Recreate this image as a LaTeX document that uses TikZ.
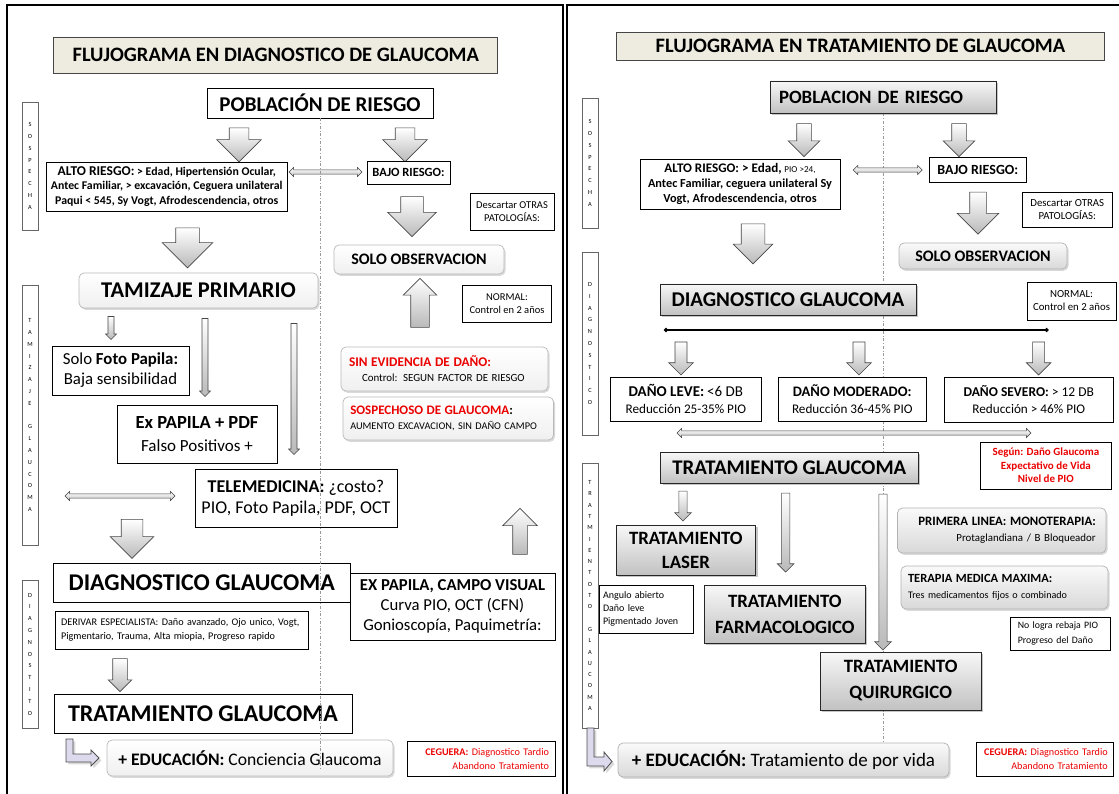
\documentclass[tikz,border=0pt]{standalone}
\usepackage{fontspec}
\setmainfont{Carlito}
\usetikzlibrary{shapes.arrows,shadows,arrows.meta,backgrounds}
\definecolor{titlefill}{RGB}{238,236,224}
\definecolor{redtxt}{RGB}{235,0,0}
\definecolor{lila}{RGB}{222,218,238}
\newcommand{\fz}[2]{\fontsize{#1}{#2}\selectfont}

\begin{document}
\begin{tikzpicture}[x=1pt,y=1pt]
\tikzset{
  plainbox/.style={draw=black, line width=0.7pt, fill=white, align=center, inner sep=0pt},
  shadebox/.style={plainbox, draw=black!85, top color=gray!6, bottom color=gray!48, drop shadow={opacity=0.45, shadow xshift=1.8pt, shadow yshift=-1.8pt}},
  softbox/.style={plainbox, draw=gray!55, rounded corners=5pt, top color=white, bottom color=gray!12, drop shadow={opacity=0.3, shadow xshift=1.5pt, shadow yshift=-1.8pt}},
  softgray/.style={softbox, draw=gray!60, top color=gray!4, bottom color=gray!30},
  titlebox/.style={draw=gray!55!black, line width=0.7pt, fill=titlefill, inner sep=0pt},
  sidebox/.style={draw=black!60, line width=0.4pt, fill=white, minimum width=16, inner sep=0pt, align=center, font={\fz{6.3}{11.8}}},
  redbox/.style={plainbox, text=redtxt},
  blkbase/.style={single arrow, draw=gray!55!black, line width=0.6pt, top color=white, bottom color=gray!55, single arrow head indent=0pt, minimum width=0pt},
  blkdn/.style 2 args={blkbase, shape border rotate=270, inner sep=#1, single arrow head extend=#2},
  blkup/.style 2 args={blkbase, shape border rotate=90, inner sep=#1, single arrow head extend=#2},
  dblarr/.style={double arrow, draw=gray!50!black, line width=0.5pt, top color=white, bottom color=gray!45, inner sep=1.8pt, double arrow head extend=2.5pt, minimum width=0pt},
  larrow/.style={draw=black!70, line width=0.8pt, fill=lila, drop shadow={opacity=0.3}},
  midline/.style={gray!80, line width=0.5pt, dash dot},
  panelline/.style={line width=1.6pt, black}
}
\useasboundingbox (0,0) rectangle (1119,-794);
\draw[panelline] (7,-794) -- (7,-5) -- (563,-5) -- (563,-794);
\draw[panelline] (567,-794) -- (567,-5) -- (1119,-5);

\node[titlebox, minimum width=444, minimum height=36] (tit1) at (275.8,-55) {\fz{20.5}{22}\bfseries FLUJOGRAMA EN DIAGNOSTICO DE GLAUCOMA};
\node[plainbox, minimum width=226, minimum height=30, font={\fz{21}{23}\bfseries}] (pob1) at (320,-103) {POBLACIÓN DE RIESGO};
\node[sidebox, minimum height=128] (sos1) at (30,-166) {S\\O\\S\\P\\E\\C\\H\\A};
\node[blkdn={9.5pt}{12.5pt}, minimum height=34] (ar1) at (239,-140) {};
\node[blkdn={9.5pt}{12.5pt}, minimum height=34] (ar2) at (405,-140) {};
\node[plainbox, minimum width=241.5, minimum height=49, font={\fz{11.8}{14.5}\bfseries}] (alto1) at (166.75,-186.5) {{\fz{13.5}{14.5}ALTO RIESGO:} > Edad, Hipertensión Ocular,\\Antec Familiar, > excavación, Ceguera unilateral\\Paqui < 545, Sy Vogt, Afrodescendencia, otros};
\node[dblarr, minimum height=73] (lr1) at (325.5,-172) {};
\node[plainbox, minimum width=83, minimum height=23, font={\fz{12.5}{14}\bfseries}] (bajo1) at (408.5,-172.5) {BAJO RIESGO:};
\node[plainbox, minimum width=84, minimum height=37, font={\fz{10.5}{13}}] (desc1) at (512,-211.5) {Descartar OTRAS\\PATOLOGÍAS:};
\node[blkdn={11pt}{13pt}, minimum height=40] (ar3) at (412,-211) {};
\node[blkdn={11.5pt}{13.5pt}, minimum height=40] (ar4) at (187.5,-242) {};
\node[softbox, minimum width=170, minimum height=29, font={\fz{16}{18}\bfseries}] (solo1) at (419,-259.5) {SOLO OBSERVACION};
\node[blkup={9pt}{7.5pt}, minimum height=49] (ar5) at (420,-307.5) {};
\node[plainbox, minimum width=89.5, minimum height=37, font={\fz{10.5}{13}}] (norm1) at (507,-303.5) {NORMAL:\\Control en 2 años};
\node[sidebox, minimum height=260] (tam0) at (30,-415) {T\\A\\M\\I\\Z\\A\\J\\E\\[11.8pt]G\\L\\A\\U\\C\\O\\M\\A};
\node[softbox, minimum width=239, minimum height=35, font={\fz{22.5}{24}\bfseries}] (tam1) at (198.5,-290.5) {TAMIZAJE PRIMARIO};
\node[blkdn={2.7pt}{2.5pt}, minimum height=23] (ar6) at (111,-326.5) {};
\node[blkdn={2.7pt}{2.5pt}, minimum height=78] (ar7) at (205,-356) {};
\node[blkdn={2.7pt}{2.5pt}, minimum height=131] (ar8) at (294,-387.5) {};
\node[plainbox, minimum width=137, minimum height=49, font={\fz{16.8}{20}}] (foto1) at (120.5,-370.5) {Solo \textbf{Foto Papila:}\\Baja sensibilidad};
\node[plainbox, minimum width=160, minimum height=58, font={\fz{17}{23}}] (pap1) at (197,-434) {{\fz{18.5}{23}\bfseries Ex PAPILA + PDF}\\Falso Positivos +};
\node[plainbox, minimum width=202, minimum height=58, font={\fz{18}{21}}] (tele1) at (296,-498) {\textbf{TELEMEDICINA:} ¿costo?\\PIO, Foto Papila,  PDF, OCT};
\node[dblarr, minimum height=110] (lr2) at (120,-496) {};
\node[blkdn={10.5pt}{11pt}, minimum height=39] (ar9) at (132,-533.5) {};
\node[blkup={7pt}{10pt}, minimum height=46] (ar10) at (520,-535) {};
\node[softbox, minimum width=207, minimum height=44, align=left, text width=191, font={\fz{10.9}{15}}] (sin1) at (444.5,-369) {{\fz{13.3}{15}\bfseries\color{redtxt}SIN EVIDENCIA DE DAÑO:}\\\hspace*{13pt}Control:  SEGUN FACTOR DE RIESGO};
\node[softbox, minimum width=210.5, minimum height=43, align=left, text width=196, font={\fz{10.3}{15}}] (sos2) at (448.25,-418.5) {{\fz{13}{15}\bfseries\textcolor{redtxt}{SOSPECHOSO DE GLAUCOMA}:}\\AUMENTO  EXCAVACION,  SIN DAÑO CAMPO};
\node[plainbox, minimum width=296.4, minimum height=39, font={\fz{24}{26}\bfseries}] (diag1) at (201.8,-582.5) {DIAGNOSTICO GLAUCOMA};
\node[plainbox, minimum width=205, minimum height=67, font={\fz{16.7}{20}}] (exp2) at (452.5,-606.5) {\textbf{EX PAPILA,  CAMPO VISUAL}\\Curva PIO, OCT (CFN)\\Gonioscopía, Paquimetría:};
\node[plainbox, minimum width=253, minimum height=38, align=left, text width=241, font={\fz{10.2}{14}}] (der1) at (181.5,-630) {DERIVAR ESPECIALISTA: Daño avanzado, Ojo unico, Vogt,\\Pigmentario, Trauma, Alta miopia, Progreso rapido};
\node[sidebox, minimum height=148] (dia0) at (30,-654) {D\\I\\A\\G\\N\\O\\S\\T\\I\\T\\O};
\node[blkdn={7pt}{4.5pt}, minimum height=33] (ar11) at (120,-671.5) {};
\node[plainbox, minimum width=298, minimum height=39, font={\fz{24}{26}\bfseries}] (trat1) at (203,-713.5) {TRATAMIENTO GLAUCOMA};
\draw[larrow] (66,-739) -- (73,-739) -- (73,-754) -- (91,-754) -- (91,-750) -- (99,-758) -- (91,-766) -- (91,-762) -- (66,-762) -- cycle;
\node[softbox, minimum width=286, minimum height=36, font={\fz{17.6}{19}}] (edu1) at (250,-758) {\textbf{+ EDUCACIÓN:} Conciencia  Glaucoma};
\node[redbox, minimum width=148, minimum height=35, align=right, text width=136, font={\fz{10.2}{14}}] (ceg1) at (481,-758.5) {\textbf{CEGUERA:} Diagnostico Tardio\\Abandono Tratamiento};
\coordinate (m1) at (320,-770);
\draw[midline] (pob1.south) -- (m1);

\node[titlebox, minimum width=488, minimum height=28] (tit2) at (860.5,-46) {\fz{20.5}{22}\bfseries FLUJOGRAMA EN TRATAMIENTO DE GLAUCOMA};
\node[shadebox, minimum width=226, minimum height=32, align=left, text width=208, font={\fz{18.8}{21}\bfseries}] (pob2) at (883,-97) {POBLACION DE RIESGO};
\node[sidebox, minimum height=130] (sos3) at (590,-163) {S\\O\\S\\P\\E\\C\\H\\A};
\node[blkdn={7pt}{8.5pt}, minimum height=33] (br1) at (804,-136.5) {};
\node[blkdn={7pt}{8.5pt}, minimum height=33] (br2) at (959,-136.5) {};
\node[plainbox, minimum width=200, minimum height=50, font={\fz{12.3}{15}\bfseries}] (alto2) at (740,-184) {{\fz{13.1}{15}ALTO RIESGO: > Edad,} {\fz{9.1}{15}\mdseries PIO >24,}\\Antec Familiar, ceguera unilateral Sy\\Vogt,  Afrodescendencia, otros};
\node[dblarr, minimum height=69] (rr1) at (887.7,-170) {};
\node[plainbox, minimum width=96.4, minimum height=25, font={\fz{14}{16}\bfseries}] (bajo2) at (977.8,-169.5) {BAJO RIESGO:};
\node[plainbox, minimum width=89.5, minimum height=35, font={\fz{10.8}{13}}] (desc2) at (1067.25,-209.5) {Descartar OTRAS\\PATOLOGÍAS:};
\node[blkdn={8pt}{12.5pt}, minimum height=42] (br3) at (978,-209) {};
\node[blkdn={11.5pt}{8pt}, minimum height=40] (br4) at (753,-238) {};
\node[softgray, minimum width=168, minimum height=26, font={\fz{16}{18}\bfseries}] (solo2) at (983,-256) {SOLO OBSERVACION};
\node[sidebox, minimum height=183] (dia2) at (590,-343.5) {D\\I\\A\\G\\N\\O\\S\\T\\I\\C\\O};
\node[shadebox, minimum width=256, minimum height=31, font={\fz{21}{23}\bfseries}] (diag2) at (788,-299.5) {DIAGNOSTICO GLAUCOMA};
\node[plainbox, minimum width=89, minimum height=38, font={\fz{10.8}{13}}] (norm2) at (1071.5,-301) {NORMAL:\\Control en 2 años};
\coordinate (hl1) at (664,-330);
\coordinate (hl2) at (1048.6,-330);
\draw[line width=1.4pt, {Circle[length=4pt]}-{Circle[length=4pt]}] (hl1) -- (hl2);
\node[blkdn={5.7pt}{6.3pt}, minimum height=33] (br5) at (681,-355.5) {};
\node[blkdn={5.7pt}{6.3pt}, minimum height=33] (br6) at (859,-355.5) {};
\node[blkdn={5.7pt}{6.3pt}, minimum height=33] (br7) at (1038.6,-355.5) {};
\node[plainbox, minimum width=150.3, minimum height=44, font={\fz{13.2}{17}}] (leve) at (685.85,-399) {{\fz{15}{17}\bfseries DAÑO LEVE:} {\fz{15}{17}<6 DB}\\Reducción 25-35\% PIO};
\node[plainbox, minimum width=147.4, minimum height=44, font={\fz{13.2}{17}}] (mode) at (852.3,-399) {{\fz{14.5}{17}\bfseries DAÑO MODERADO:}\\Reducción 36-45\% PIO};
\node[plainbox, minimum width=169.6, minimum height=45, font={\fz{13.2}{17}}] (seve) at (1028.8,-399.5) {{\fz{13.5}{17}\bfseries DAÑO SEVERO:} {\fz{13.5}{17}> 12 DB}\\Reducción > 46\% PIO};
\node[dblarr, minimum height=354] (rr2) at (854,-433) {};
\node[redbox, minimum width=131.8, minimum height=47, font={\fz{11}{13.5}\bfseries}] (segun) at (1045.9,-465.5) {Según: Daño Glaucoma\\Expectativo de Vida\\Nivel de PIO};
\node[shadebox, minimum width=257.3, minimum height=31, font={\fz{20.8}{23}\bfseries}] (trat2) at (789.35,-467.5) {TRATAMIENTO GLAUCOMA};
\node[sidebox, minimum height=265, font={\fz{6.3}{11.3}}] (tra0) at (590,-595.5) {T\\R\\A\\T\\M\\I\\E\\N\\T\\O\\T\\O\\[11.3pt]G\\L\\A\\U\\C\\O\\M\\A};
\node[blkdn={3.8pt}{4.2pt}, minimum height=30] (tr1) at (683,-504) {};
\node[blkdn={3.8pt}{4.2pt}, minimum height=79] (tr2) at (785.7,-530.5) {};
\node[blkdn={3.8pt}{4.2pt}, minimum height=156] (tr3) at (883,-570) {};
\node[shadebox, minimum width=139.7, minimum height=50, font={\fz{18.8}{24}\bfseries}] (laser) at (685.85,-550) {TRATAMIENTO\\LASER};
\node[softgray, minimum width=208.5, minimum height=45, align=right, text width=188, font={\fz{10.9}{16}}] (prim) at (1001.75,-530.5) {{\fz{12.8}{16}\bfseries PRIMERA LINEA: MONOTERAPIA:}\\Protaglandiana  / B Bloqueador};
\node[softgray, minimum width=207, minimum height=43, align=left, text width=193, font={\fz{10.1}{16}}] (terap) at (1004.5,-587.5) {{\fz{12.5}{16}\bfseries TERAPIA MEDICA MAXIMA:}\\Tres medicamentos  fijos  o combinado};
\node[plainbox, minimum width=94, minimum height=48, align=left, text width=86, font={\fz{10}{13}}] (ang) at (646,-609) {Angulo abierto\\Daño leve\\Pigmentado Joven};
\node[shadebox, minimum width=160.4, minimum height=58, font={\fz{18.8}{26}\bfseries}] (farm) at (784.8,-614) {TRATAMIENTO\\FARMACOLOGICO};
\node[plainbox, minimum width=99.3, minimum height=33, align=left, text width=85, font={\fz{9.8}{14.5}}] (nolog) at (1060.35,-633.5) {No logra rebaja PIO\\Progreso del Daño};
\node[shadebox, minimum width=161.4, minimum height=58, font={\fz{18.8}{26}\bfseries}] (quir) at (900.7,-681) {TRATAMIENTO\\QUIRURGICO};
\draw[larrow] (587,-728) -- (594,-728) -- (594,-757) -- (604,-757) -- (604,-752) -- (612,-761.5) -- (604,-771) -- (604,-766) -- (587,-766) -- cycle;
\node[softgray, minimum width=331, minimum height=34, font={\fz{19}{21}}] (edu2) at (783.5,-760) {\textbf{+ EDUCACIÓN:} Tratamiento de por vida};
\node[redbox, minimum width=137.6, minimum height=34, align=right, text width=126, font={\fz{10.2}{14}}] (ceg2) at (1044.8,-759) {\textbf{CEGUERA:} Diagnostico Tardio\\Abandono Tratamiento};
\begin{scope}[on background layer]
\draw[midline] (pob2.south) -- (pob2.south |- edu2.north);
\end{scope}
\end{tikzpicture}
\end{document}
